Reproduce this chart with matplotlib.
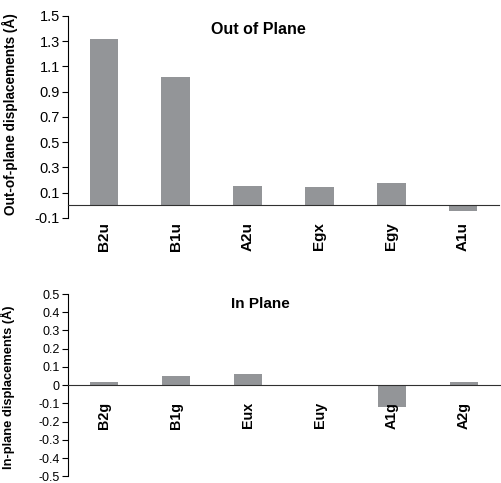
import matplotlib
matplotlib.use("Agg")
import matplotlib.pyplot as plt

plt.rcParams['font.family'] = ['Liberation Sans', 'DejaVu Sans']

# OUT OF PLANE DATA
out_modes = ["B2u", "B1u", "A2u", "Egx", "Egy", "A1u"]
out_values = [1.316, 1.017, 0.156, 0.146, 0.177, -0.042]
out_ticks = [-0.1, 0.1, 0.3, 0.5, 0.7, 0.9, 1.1, 1.3, 1.5]
out_ticklabels = ["-0.1", "0.1", "0.3", "0.5", "0.7", "0.9", "1.1", "1.3", "1.5"]

# IN PLANE DATA
in_modes = ["B2g", "B1g", "Eux", "Euy", "A1g", "A2g"]
in_values = [0.02, 0.048, 0.064, 0.0, -0.12, 0.02]
in_ticks = [-0.5, -0.4, -0.3, -0.2, -0.1, 0, 0.1, 0.2, 0.3, 0.4, 0.5]
in_ticklabels = ["-0.5", "-0.4", "-0.3", "-0.2", "-0.1", "0", "0.1", "0.2", "0.3", "0.4", "0.5"]

barcolor = "#939598"

fig = plt.figure(figsize=(5.01, 4.83), dpi=100)
ax1 = fig.add_axes([0.1357, 0.5487, 0.8603, 0.4182])
ax2 = fig.add_axes([0.1357, 0.0135, 0.8623, 0.3778])


def style_axis(ax, modes, values, ticks, ticklabels, ylim, ticksize, xsize, ylabel, ylabelsize, labelpos):
    # spine position first, it resets the ticks
    ax.spines['top'].set_visible(False)
    ax.spines['right'].set_visible(False)
    ax.spines['bottom'].set_position(('data', 0))
    ax.spines['bottom'].set_color('#303030')
    ax.spines['bottom'].set_zorder(3)
    ax.spines['left'].set_linewidth(0.8)
    ax.set_axisbelow(False)  # tick labels drawn over the bars (A1g)

    x = range(len(modes))
    ax.bar(x, values, width=0.4, color=barcolor, zorder=1)
    ax.set_xlim(-0.5, len(modes) - 0.5)
    ax.set_ylim(*ylim)
    ax.set_yticks(ticks)
    ax.set_yticklabels(ticklabels, fontsize=ticksize)
    ax.tick_params(axis='y', direction='out', length=4, width=0.8, pad=2)
    ax.set_xticks(list(x))
    ax.set_xticklabels(modes, rotation=90, fontsize=xsize, fontweight='bold')
    ax.tick_params(axis='x', length=0, pad=12)
    ax.set_ylabel(ylabel, fontsize=ylabelsize, fontweight='bold')
    ax.yaxis.set_label_coords(*labelpos)


style_axis(ax1, out_modes, out_values, out_ticks, out_ticklabels, (-0.1, 1.5), 10.5, 11,
           "Out-of-plane displacements (Å)", 9.8, (-0.116, 0.515))
style_axis(ax2, in_modes, in_values, in_ticks, in_ticklabels, (-0.5, 0.5), 9, 10.3,
           "In-plane displacements (Å)", 9.3, (-0.123, 0.49))

fig.text(0.515, 0.938, "Out of Plane", ha='center', va='center', fontsize=11.5, fontweight='bold')
fig.text(0.519, 0.371, "In Plane", ha='center', va='center', fontsize=11, fontweight='bold')

plt.savefig("out.png", dpi=100)
plt.close()
